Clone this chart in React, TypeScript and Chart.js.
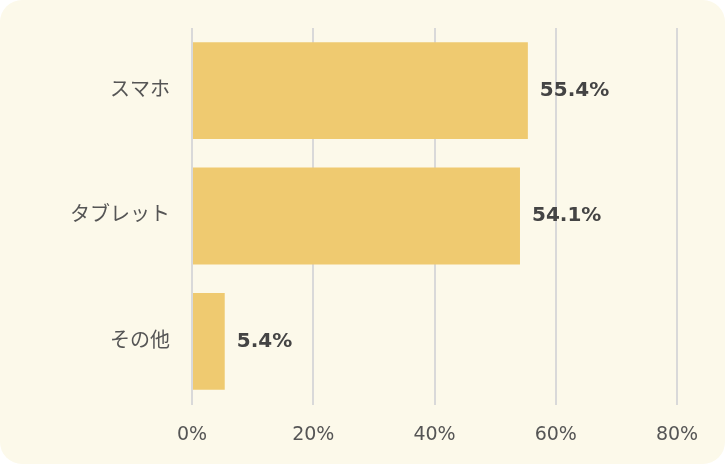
import React, { useEffect, useRef } from "react";
import { Chart, registerables } from "chart.js";

Chart.register(...registerables);

const categories = ["スマホ", "タブレット", "その他"];
const values = [55.4, 54.1, 5.4];
const xTicks = [0, 20, 40, 60, 80];

const FONT = '"DejaVu Sans", "Noto Sans CJK JP", sans-serif';

const valueLabelPlugin = {
  id: "valueLabels",
  afterDatasetsDraw(chart: any) {
    const ctx = chart.ctx;
    const meta = chart.getDatasetMeta(0);
    ctx.save();
    ctx.font = `bold 20px ${FONT}`;
    ctx.fillStyle = "#444444";
    ctx.textAlign = "left";
    ctx.textBaseline = "middle";
    meta.data.forEach((bar: any, i: number) => {
      ctx.fillText(values[i].toFixed(1) + "%", bar.x + 12, bar.y);
    });
    ctx.restore();
  },
};

export default function App() {
  const ref = useRef<HTMLCanvasElement | null>(null);
  useEffect(() => {
    document.body.style.margin = "0";
    const chart = new Chart(ref.current!, {
      type: "bar",
      data: {
        labels: categories,
        datasets: [
          {
            data: values,
            backgroundColor: "#efca70",
            borderWidth: 0,
            categoryPercentage: 1,
            barPercentage: 0.773,
          },
        ],
      },
      options: {
        indexAxis: "y",
        animation: false,
        responsive: false,
        devicePixelRatio: 1,
        layout: { padding: { top: 28, right: 48, left: 0, bottom: 0 } },
        plugins: { legend: { display: false }, tooltip: { enabled: false } },
        scales: {
          x: {
            min: 0,
            max: 80,
            afterBuildTicks: (scale: any) => {
              scale.ticks = xTicks.map((v) => ({ value: v }));
            },
            afterFit: (scale: any) => {
              scale.height = 60;
              scale.paddingLeft = 0;
              scale.paddingRight = 0;
            },
            border: { display: false },
            grid: { color: "#d9d9d9", lineWidth: 2, tickLength: 1 },
            ticks: {
              padding: 19,
              color: "#555555",
              font: { family: FONT, size: 19 },
              callback: (v: any) => v + "%",
            },
          },
          y: {
            afterFit: (scale: any) => {
              scale.width = 192;
              scale.paddingTop = 0;
              scale.paddingBottom = 0;
            },
            border: { display: false },
            grid: { display: false, drawTicks: false },
            ticks: {
              padding: 22,
              color: "#555555",
              font: { family: FONT, size: 20 },
            },
          },
        },
      },
      plugins: [valueLabelPlugin],
    });
    return () => chart.destroy();
  }, []);
  return (
    <div
      style={{
        position: "fixed",
        left: 0,
        top: 0,
        width: 725,
        height: 464,
        background: "#fcf9ea",
        borderRadius: 22,
        overflow: "hidden",
      }}
    >
      <canvas ref={ref} width={725} height={464} style={{ display: "block" }} />
    </div>
  );
}
